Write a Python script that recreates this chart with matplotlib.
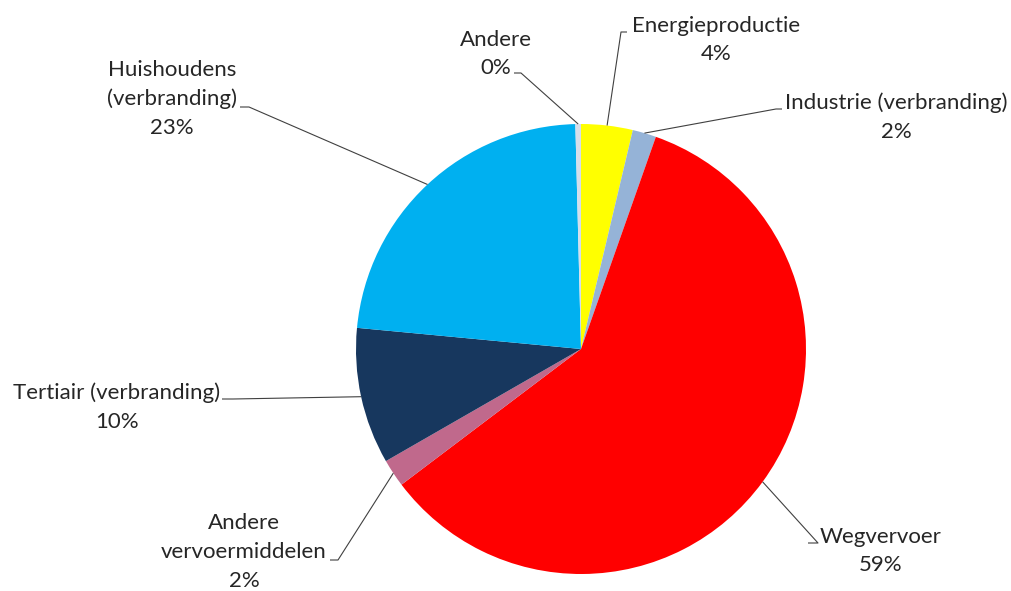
import numpy as np
import matplotlib
matplotlib.use("Agg")
from matplotlib import pyplot as plt

plt.rcParams['font.family'] = ['Lato', 'DejaVu Sans']

# aandeel per sector (%), met de klok mee vanaf boven
sectoren = ['Energieproductie', 'Industrie (verbranding)', 'Wegvervoer',
            'Andere\nvervoermiddelen', 'Tertiair (verbranding)',
            'Huishoudens\n(verbranding)', 'Andere']
aandeel = [3.7, 1.7, 59.3, 2.0, 9.8, 23.1, 0.4]
kleuren = ['#FFFF00', '#95B3D7', '#FF0000', '#C0698C', '#17375E', '#00B0F0', '#D5DEEA']

# label plaats (px) en knikpunt van de verbindingslijn (px)
label_xy = [(716, 40), (896, 117), (881, 551), (244, 552), (117, 407), (172, 99), (496, 54)]
knik_xy = [[(627, 32), (621, 32)], [(782, 109), (776, 109)], [(808, 543), (818, 543)],
           [(330, 560), (338, 560)], [(222, 399), (233, 399)], [(240, 107), (249, 107)],
           [(514, 73), (521, 73)]]
tekst_kleur = '#262626'

W, H = 1012, 591
cx, cy, r = 581, 349, 225

fig = plt.figure(figsize=(W / 100, H / 100), dpi=100)
ax = fig.add_axes([0, 0, 1, 1])
ax.pie(aandeel, colors=kleuren, startangle=90, counterclock=False,
       wedgeprops=dict(linewidth=0))
ax.set_xlim(-cx / r, (W - cx) / r)
ax.set_ylim(-(H - cy) / r, cy / r)
ax.set_aspect('auto')
ax.axis('off')


def px(x, y):
    return (x - cx) / r, (cy - y) / r


totaal = sum(aandeel)
hoek0 = 0
for naam, waarde, lxy, knik in zip(sectoren, aandeel, label_xy, knik_xy):
    midden = (hoek0 + waarde / 2) / totaal * 2 * np.pi
    hoek0 += waarde
    rand = (np.sin(midden), np.cos(midden))
    p1 = px(*knik[0])
    p2 = px(*knik[1])
    ax.plot([p1[0], p2[0], rand[0]], [p1[1], p2[1], rand[1]],
            color='#404040', lw=0.8, solid_capstyle='butt')
    tx, ty = px(*lxy)
    ax.text(tx, ty, f"{naam}\n{waarde:.0f}%", ha='center', va='center',
            fontsize=16, color=tekst_kleur, linespacing=1.55)

fig.savefig('out.png', dpi=100, facecolor='white')
